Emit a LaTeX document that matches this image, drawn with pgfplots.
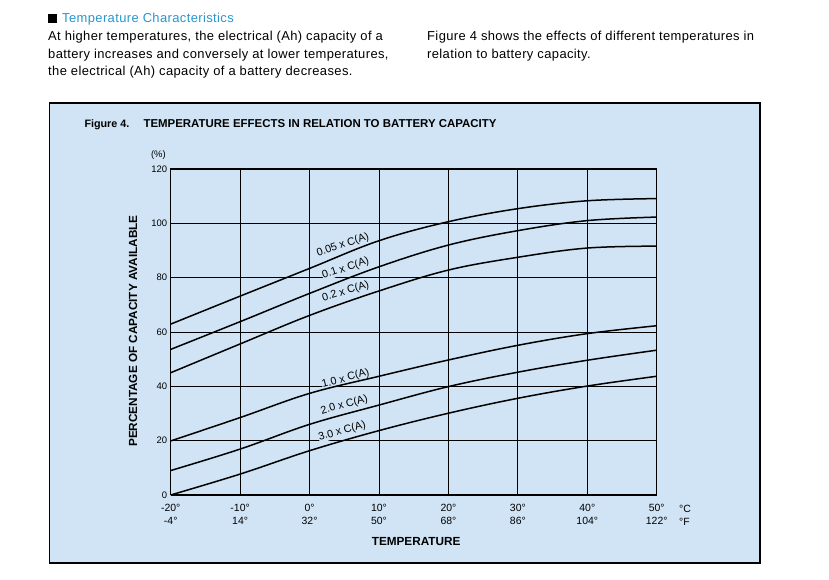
\documentclass[border=0pt]{standalone}
\usepackage{fontspec}
\setmainfont{Liberation Sans}
\newfontfamily\bodyfont[LetterSpace=3]{Liberation Sans}
\usepackage{pgfplots}
\pgfplotsset{compat=1.18}
\definecolor{panelbg}{RGB}{208,228,245}
\definecolor{headblue}{RGB}{41,150,205}
\pgfplotsset{curve/.style={black,line width=1.5bp,no markers,solid,smooth,tension=0.6}}
\pgfplotstableread{
T     c005   c01    c02   c10   c20   c30
-20   62.9   53.6   45.0  19.9   9.0   0.0
-10   73.2   63.8   55.6  28.5  16.9   7.7
0     83.4   74.2   66.1  37.4  26.0  16.3
10    93.6   84.0   75.1  43.7  33.1  23.7
20   100.6   92.0   82.8  49.7  39.9  30.1
30   105.4   97.3   87.5  55.1  45.2  35.6
40   108.3  101.0   90.9  59.4  49.6  40.1
50   109.1  102.3   91.6  62.3  53.3  43.7
}\captable
\begin{document}
\begin{tikzpicture}[x=1bp,y=1bp]
\useasboundingbox (0,0) rectangle (829,580);
\fill[white] (0,0) rectangle (829,580);
% header
\fill[black] (48,557) rectangle (57,566);
\node[anchor=base west,inner sep=0,text=headblue,font=\bodyfont\fontsize{13}{15}\selectfont] at (62,557) {Temperature Characteristics};
\begin{scope}[every node/.style={anchor=base west,inner sep=0,font=\bodyfont\fontsize{13}{15}\selectfont}]
\node at (48,539) {At higher temperatures, the electrical (Ah) capacity of a};
\node at (48,521) {battery increases and conversely at lower temperatures,};
\node at (48,504) {the electrical (Ah) capacity of a battery decreases.};
\node at (427,539) {Figure 4 shows the effects of different temperatures in};
\node at (427,521) {relation to battery capacity.};
\end{scope}
% panel
\filldraw[fill=panelbg,draw=black,line width=1.2bp] (49.5,17) rectangle (760,477);
\node[anchor=base west,inner sep=0,font=\bfseries\fontsize{10.8}{12}\selectfont] at (84.3,452) {Figure 4.};
\node[anchor=base west,inner sep=0,font=\bfseries\fontsize{11.5}{12}\selectfont] at (143.3,452) {TEMPERATURE EFFECTS IN RELATION TO BATTERY CAPACITY};
\node[anchor=east,inner sep=0,font=\fontsize{9.5}{11}\selectfont] at (166,425) {(\%)};
\node[anchor=west,inner sep=0,font=\fontsize{10.5}{12}\selectfont] at (679,71.5) {°C};
\node[anchor=west,inner sep=0,font=\fontsize{10.5}{12}\selectfont] at (679,58.5) {°F};
\begin{axis}[
  at={(170.7bp,85bp)}, anchor=south west,
  scale only axis, width=486bp, height=326bp,
  xmin=-20, xmax=50, ymin=0, ymax=120,
  xtick={-20,-10,0,10,20,30,40,50},
  xticklabels={{-20°\\-4°},{-10°\\14°},{0°\\32°},{10°\\50°},{20°\\68°},{30°\\86°},{40°\\104°},{50°\\122°}},
  ytick={0,20,40,60,80,100,120},
  /pgf/number format/assume math mode=true,
  major tick length=0pt,
  grid=major,
  major grid style={black,line width=0.9bp},
  axis line style={black,line width=1bp},
  xticklabel style={align=center,font=\fontsize{10.5}{12.7}\selectfont,yshift=-6bp},
  yticklabel style={font=\fontsize{9.5}{11}\selectfont},
  xlabel={TEMPERATURE},
  ylabel={PERCENTAGE OF CAPACITY AVAILABLE},
  xlabel style={font=\bfseries\fontsize{11.8}{13}\selectfont,at={(axis description cs:0.505,-0.143)},anchor=center},
  ylabel style={font=\bfseries\fontsize{11.8}{13}\selectfont,at={(axis description cs:-0.0776,0.503)},anchor=center},
  clip=false,
]
\begin{scope}[every node/.style={fill=panelbg,inner sep=0.3bp,font=\fontsize{10.8}{12}\selectfont}]
\node[rotate=19] at (axis cs:4.8,92.0) {0.05 x C(A)};
\node[rotate=18] at (axis cs:5.2,83.4) {0.1 x C(A)};
\node[rotate=17] at (axis cs:5.2,74.9) {0.2 x C(A)};
\node[rotate=15] at (axis cs:5.2,42.8) {1.0 x C(A)};
\node[rotate=16] at (axis cs:5.0,33.1) {2.0 x C(A)};
\node[rotate=16] at (axis cs:4.7,23.5) {3.0 x C(A)};
\end{scope}
\addplot[curve] table[x=T,y=c005] {\captable};
\addplot[curve] table[x=T,y=c01] {\captable};
\addplot[curve] table[x=T,y=c02] {\captable};
\addplot[curve] table[x=T,y=c10] {\captable};
\addplot[curve] table[x=T,y=c20] {\captable};
\addplot[curve] table[x=T,y=c30] {\captable};
\end{axis}
\end{tikzpicture}
\end{document}
